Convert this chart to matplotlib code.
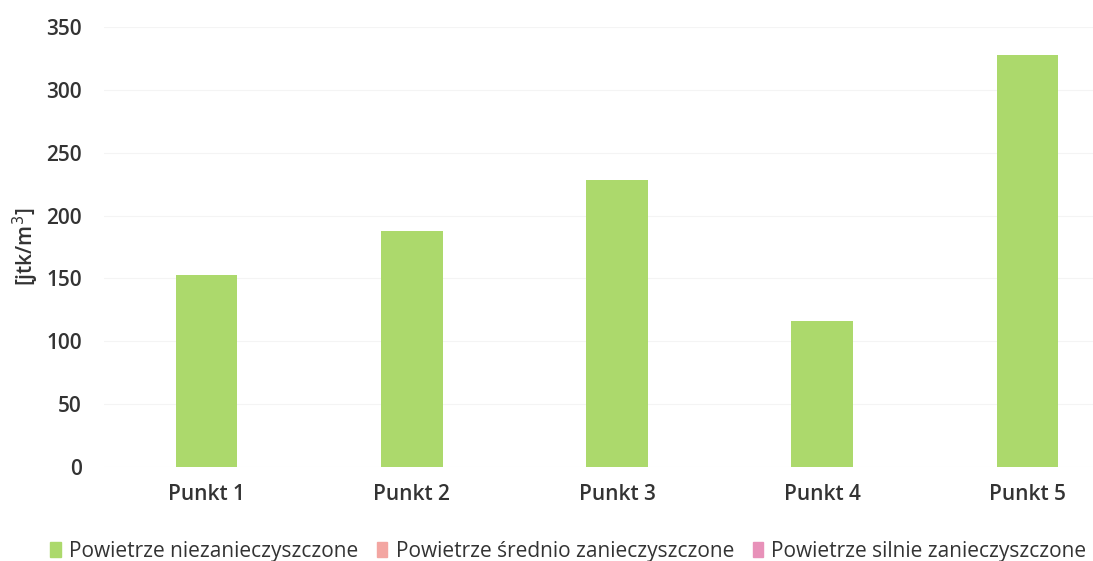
import numpy as np
import matplotlib.pyplot as plt
from matplotlib.patches import Patch

plt.rcParams['font.family'] = ['Open Sans', 'DejaVu Sans']

punkty = ["Punkt 1", "Punkt 2", "Punkt 3", "Punkt 4", "Punkt 5"]
wartosci = [153, 188, 228, 116, 328]
legenda = ["Powietrze niezanieczyszczone", "Powietrze średnio zanieczyszczone",
           "Powietrze silnie zanieczyszczone"]
kolory = ["#acd96c", "#f3a6a2", "#e891b9"]


def main():
    fig = plt.figure(figsize=(10.93, 5.61), dpi=100)
    ax = fig.add_axes([104 / 1093, (561 - 467) / 561, (1093 - 104) / 1093, 440 / 561])

    x = np.arange(len(punkty))
    ax.bar(x, wartosci, width=0.3, color=kolory[0])

    ax.set_xlim(-0.5, 4.32)
    ax.set_ylim(0, 350)
    ax.set_yticks(np.arange(0, 351, 50))
    ax.set_xticks(x)
    ax.set_xticklabels(punkty)
    ax.grid(axis="y", color="#f4f4f4", linewidth=0.8)
    ax.set_axisbelow(True)
    for s in ax.spines.values():
        s.set_visible(False)
    ax.tick_params(length=0, labelsize=15, labelcolor="#333333")
    ax.tick_params(axis="y", pad=16)
    ax.tick_params(axis="x", pad=12)
    for lab in ax.get_xticklabels() + ax.get_yticklabels():
        lab.set_fontweight("semibold")
    ax.set_ylabel("[jtk/m$^3$]", fontsize=15, color="#333333", fontweight="semibold", labelpad=4)

    handles = [Patch(color=c, label=l) for c, l in zip(kolory, legenda)]
    fig.legend(handles=handles, loc="lower center", bbox_to_anchor=(0.52, -0.035), ncol=3,
               frameon=False, fontsize=15, handlelength=0.5, handleheight=0.7,
               handletextpad=0.4, columnspacing=0.9, labelcolor="#333333")

    fig.savefig("out.png", dpi=100)


if __name__ == "__main__":
    main()
